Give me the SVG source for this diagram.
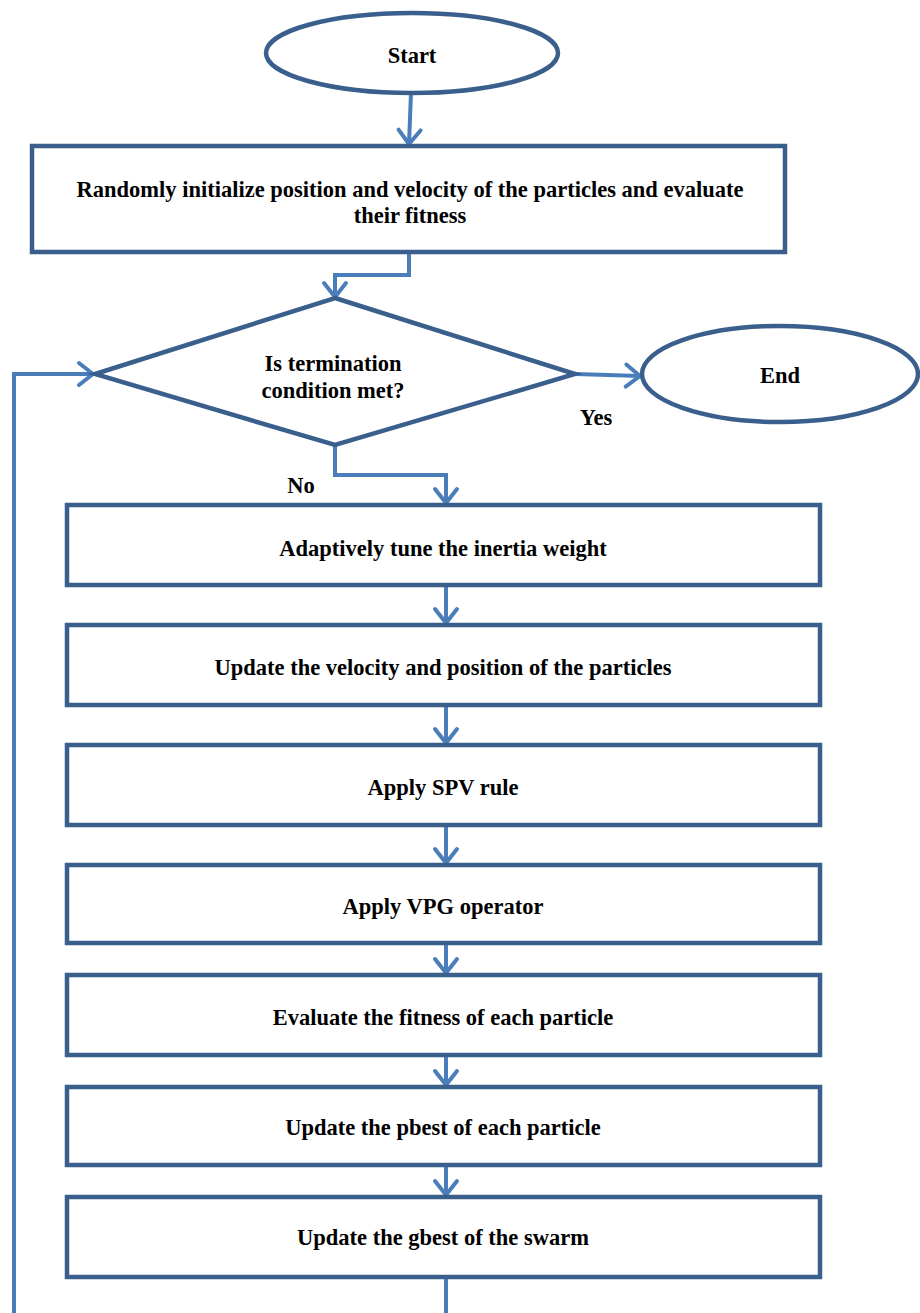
<svg xmlns="http://www.w3.org/2000/svg" width="920" height="1313" viewBox="0 0 920 1313">
<style>
.n{fill:#fff;stroke:#3a5f8c;stroke-width:4.5}
.t{font-family:"Liberation Serif","Times New Roman",serif;font-weight:bold;font-size:22.5px;fill:#000;text-anchor:middle}
.c{fill:none;stroke:#4a7ebb;stroke-width:4}
</style>
<defs>
<marker id="a" markerUnits="userSpaceOnUse" viewBox="-18 -14 22 28" refX="0" refY="0" markerWidth="22" markerHeight="28" orient="auto" overflow="visible">
<path d="M-14,-11 L0,0 L-14,11" fill="none" stroke="#4a7ebb" stroke-width="4" stroke-linecap="round" stroke-linejoin="round"/>
</marker>
</defs>
<rect width="920" height="1313" fill="#fff"/>
<g id="connectors">
<path class="c" d="M411,93 L409,144" marker-end="url(#a)"/>
<path class="c" d="M409,252 L409,275 L335,275 L335,297" marker-end="url(#a)"/>
<path class="c" d="M575,374 L640,376" marker-end="url(#a)"/>
<path class="c" d="M335,445 L335,475 L446,475 L446,503" marker-end="url(#a)"/>
<path class="c" d="M446,585 L446,623" marker-end="url(#a)"/>
<path class="c" d="M446,705 L446,743" marker-end="url(#a)"/>
<path class="c" d="M446,825 L446,863" marker-end="url(#a)"/>
<path class="c" d="M446,943 L446,973" marker-end="url(#a)"/>
<path class="c" d="M446,1055 L446,1085" marker-end="url(#a)"/>
<path class="c" d="M446,1165 L446,1195" marker-end="url(#a)"/>
<path class="c" d="M446,1277 L446,1313"/>
<path class="c" d="M14,1313 L14,374 L93,374" marker-end="url(#a)"/>
</g>
<g id="start">
<ellipse class="n" cx="412" cy="53" rx="146" ry="40"/>
<text class="t" x="412" y="63">Start</text>
</g>
<g id="init">
<rect class="n" x="32" y="146" width="753" height="106"/>
<text class="t" x="410" y="197">Randomly initialize position and velocity of the particles and evaluate</text>
<text class="t" x="410" y="223">their fitness</text>
</g>
<g id="decision">
<polygon class="n" points="335,298 575,374 335,445 95,374"/>
<text class="t" x="333" y="371">Is termination</text>
<text class="t" x="333" y="398">condition met?</text>
</g>
<g id="end">
<ellipse class="n" cx="780" cy="374" rx="138" ry="48"/>
<text class="t" x="780" y="383">End</text>
</g>
<g id="labels">
<text class="t" x="596" y="425">Yes</text>
<text class="t" x="301" y="493">No</text>
</g>
<g id="inertia">
<rect class="n" x="67" y="505" width="753" height="80"/>
<text class="t" x="443" y="556">Adaptively tune the inertia weight</text>
</g>
<g id="velocity">
<rect class="n" x="67" y="625" width="753" height="80"/>
<text class="t" x="443" y="675">Update the velocity and position of the particles</text>
</g>
<g id="spv">
<rect class="n" x="67" y="745" width="753" height="80"/>
<text class="t" x="443" y="795">Apply SPV rule</text>
</g>
<g id="vpg">
<rect class="n" x="67" y="865" width="753" height="78"/>
<text class="t" x="443" y="914">Apply VPG operator</text>
</g>
<g id="fitness">
<rect class="n" x="67" y="975" width="753" height="80"/>
<text class="t" x="443" y="1025">Evaluate the fitness of each particle</text>
</g>
<g id="pbest">
<rect class="n" x="67" y="1087" width="753" height="78"/>
<text class="t" x="443" y="1135">Update the pbest of each particle</text>
</g>
<g id="gbest">
<rect class="n" x="67" y="1197" width="753" height="80"/>
<text class="t" x="443" y="1245">Update the gbest of the swarm</text>
</g>
</svg>
